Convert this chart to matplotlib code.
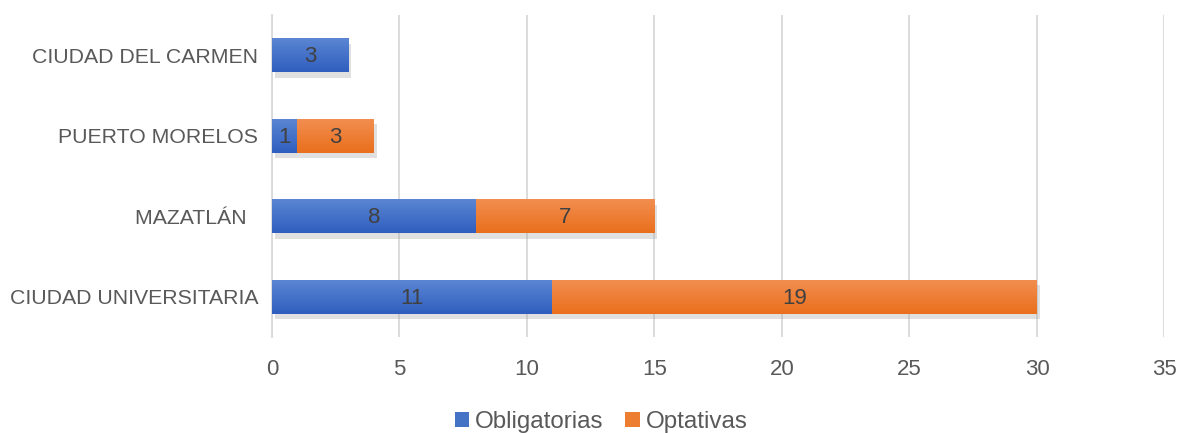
import matplotlib
matplotlib.use("Agg")
import matplotlib.pyplot as plt
import numpy as np
import matplotlib.patheffects as pe
from matplotlib.colors import LinearSegmentedColormap
from matplotlib.patches import Patch

plt.rcParams['font.family'] = ['Liberation Sans', 'DejaVu Sans']

categories = ["CIUDAD UNIVERSITARIA", "MAZATLÁN  ", "PUERTO MORELOS", "CIUDAD DEL CARMEN"]
obligatorias = [11, 8, 1, 3]
optativas = [19, 7, 3, 0]
series_names = ["Obligatorias", "Optativas"]
xticks = [0, 5, 10, 15, 20, 25, 30, 35]

fig = plt.figure(figsize=(11.79, 4.33), dpi=100)
ax = fig.add_axes([0.2307, 0.2217, 0.9877 - 0.2307, 0.9654 - 0.2217])

y = np.arange(len(categories))
h = 0.42
blue_cmap = LinearSegmentedColormap.from_list("b", ["#5B86D3", "#2F5EBE"])
orange_cmap = LinearSegmentedColormap.from_list("o", ["#F28E50", "#E96F1C"])
shadow = [pe.SimplePatchShadow(offset=(2, -4), shadow_rgbFace="#9A9A9A", alpha=0.3), pe.Normal()]

grad = np.linspace(0, 1, 64).reshape(-1, 1)

def draw(vals, left, color, cmap):
    bars = ax.barh(y, vals, left=left, height=h, color=color, zorder=3, path_effects=shadow)
    for b, v in zip(bars, vals):
        if v <= 0:
            b.set_visible(False)
            continue
        x0, y0 = b.get_x(), b.get_y()
        im = ax.imshow(grad, cmap=cmap, aspect='auto', origin='upper',
                       extent=[x0, x0 + b.get_width(), y0, y0 + b.get_height()],
                       zorder=4, interpolation='bilinear')
        im.set_clip_path(b)
        ax.text(x0 + b.get_width() / 2, y0 + b.get_height() / 2 - 0.02, f"{v}",
                ha='center', va='center', fontsize=16, color='#404040', zorder=5)
    return bars

draw(obligatorias, 0, "#4472C4", blue_cmap)
draw(optativas, obligatorias, "#ED7D31", orange_cmap)

ax.set_xlim(0, 35)
ax.set_ylim(-0.5, 3.5)
ax.set_xticks(xticks)
ax.set_xticklabels([str(t) for t in xticks], fontsize=16, color='#595959')
ax.set_yticks(y)
ax.set_yticklabels(categories, fontsize=15.3, color='#595959')
ax.tick_params(axis='both', length=0)
ax.tick_params(axis='x', pad=16)
ax.tick_params(axis='y', pad=10)
ax.grid(axis='x', color='#D9D9D9', linewidth=1.3, zorder=0)
for s in ['top', 'right', 'bottom']:
    ax.spines[s].set_visible(False)
ax.spines['left'].set_color('#D9D9D9')
ax.spines['left'].set_linewidth(1.3)

handles = [Patch(facecolor="#4472C4"), Patch(facecolor="#ED7D31")]
fig.legend(handles, series_names, loc='center', bbox_to_anchor=(0.51, 0.025), ncol=2,
           frameon=False, fontsize=17.4, handlelength=0.6, handleheight=0.6,
           handletextpad=0.25, columnspacing=0.9, labelcolor='#595959')

fig.savefig("out.png", dpi=100)
